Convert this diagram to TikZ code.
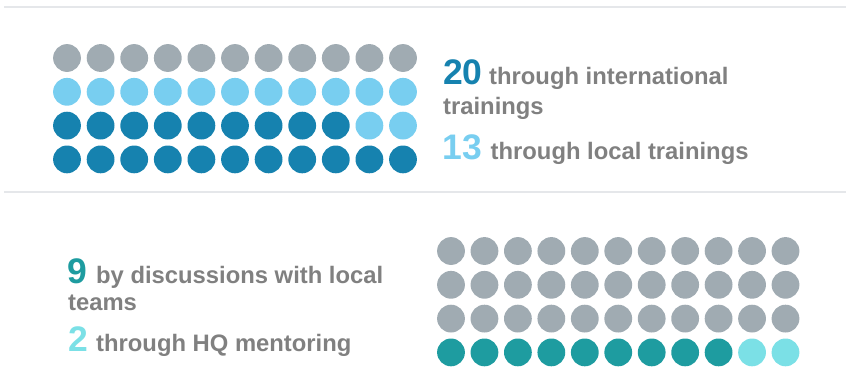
\documentclass[tikz,border=0pt]{standalone}
\usepackage{fontspec}
\setmainfont{Liberation Sans}
\definecolor{dotgray}{HTML}{A0ABB2}
\definecolor{lightblue}{HTML}{78CEF0}
\definecolor{darkblue}{HTML}{1682AF}
\definecolor{tealc}{HTML}{1E9CA0}
\definecolor{cyanc}{HTML}{7BE0E6}
\definecolor{txtgray}{HTML}{808080}
\definecolor{rulegray}{HTML}{E5E7EA}
\tikzset{
  numtext/.style={anchor=base west, inner sep=0pt, font=\fontsize{35.5}{35.5}\selectfont\bfseries},
  bodytext/.style={anchor=base west, inner sep=0pt, text=txtgray, font=\fontsize{23.8}{23.8}\selectfont\bfseries},
  rule/.style={draw=rulegray, line width=2pt},
}
\begin{document}
\begin{tikzpicture}[x=1pt,y=1pt]
\useasboundingbox (0,0) rectangle (846,-389);
% rules
\coordinate (r1a) at (4,-7);
\coordinate (r1b) at (846,-7);
\coordinate (r2a) at (4,-192);
\coordinate (r2b) at (846,-192);
\draw[rule] (r1a) -- (r1b);
\draw[rule] (r2a) -- (r2b);
% top grid
\foreach \i in {0,...,10} {
  \fill[dotgray] (67+33.6*\i,-58) circle (13.9);
  \fill[lightblue] (67+33.6*\i,-91.8) circle (13.9);
  \fill[darkblue] (67+33.6*\i,-159.4) circle (13.9);
}
\foreach \i in {0,...,8} {
  \fill[darkblue] (67+33.6*\i,-125.6) circle (13.9);
}
\foreach \i in {9,10} {
  \fill[lightblue] (67+33.6*\i,-125.6) circle (13.9);
}
% bottom grid
\foreach \i in {0,...,10} {
  \foreach \j in {0,1,2} {
    \fill[dotgray] (451+33.45*\i,-251-33.8*\j) circle (13.9);
  }
}
\foreach \i in {0,...,8} {
  \fill[tealc] (451+33.45*\i,-352.4) circle (13.9);
}
\foreach \i in {9,10} {
  \fill[cyanc] (451+33.45*\i,-352.4) circle (13.9);
}
% top texts
\node[numtext, text=darkblue] (n20) at (443,-84.5) {20};
\node[bodytext] (t20) at (489,-84.5) {through international};
\node[bodytext] (t20b) at (443,-114) {trainings};
\node[numtext, text=lightblue] (n13) at (442.5,-159) {13};
\node[bodytext] (t13) at (490.5,-159) {through local trainings};
% bottom texts
\node[numtext, text=tealc] (n9) at (67,-283) {9};
\node[bodytext] (t9) at (96,-283) {by discussions with local};
\node[bodytext] (t9b) at (68,-310) {teams};
\node[numtext, text=cyanc] (n2) at (68,-351.7) {2};
\node[bodytext] (t2) at (96,-351.7) {through HQ mentoring};
\end{tikzpicture}
\end{document}
